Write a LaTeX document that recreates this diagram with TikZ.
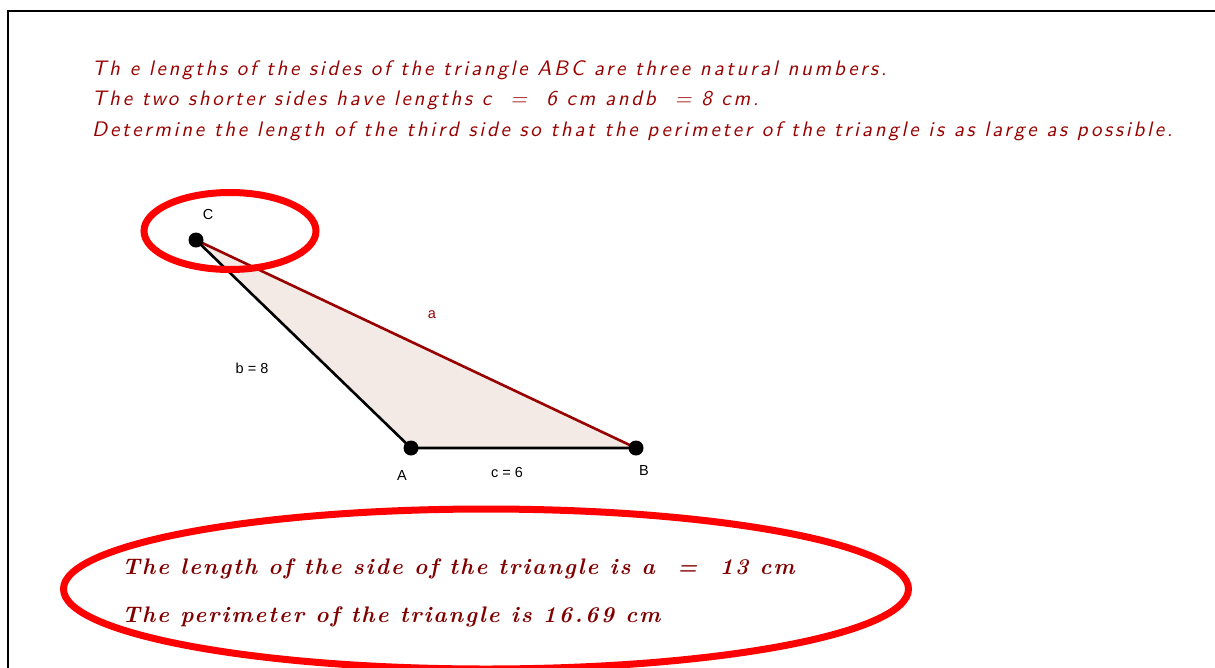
\documentclass[tikz,border=0pt]{standalone}
\usepackage{fontspec}
\usetikzlibrary{shapes.geometric}
\newfontfamily\labelfont{Liberation Sans}
\newfontfamily\qfont{lmsans10-oblique.otf}[LetterSpace=12.9]
\newfontfamily\afont{lmroman10-bolditalic.otf}[LetterSpace=8.5]
\newfontfamily\afontwide{lmroman10-bolditalic.otf}[LetterSpace=11]
\definecolor{maroon}{RGB}{153,0,0}
\definecolor{darkmaroon}{RGB}{128,0,0}
\definecolor{trifill}{RGB}{243,234,229}
\definecolor{ringred}{RGB}{255,0,0}
\tikzset{
  question/.style={anchor=base west, inner sep=0pt, text=maroon, font=\fontsize{21}{21}\selectfont\qfont},
  answer/.style={anchor=base west, inner sep=0pt, text=darkmaroon, font=\fontsize{22.5}{22.5}\selectfont\afont},
  vertex/.style={circle, fill=black, inner sep=0pt, minimum size=15pt},
  ptlabel/.style={inner sep=0pt, font=\fontsize{14.5}{14.5}\selectfont\labelfont},
  ring/.style={draw=ringred, line width=7pt},
  frameline/.style={line width=2pt, draw=black}
}
\begin{document}
\begin{tikzpicture}[x=1pt,y=-1pt]
\useasboundingbox (0,0) rectangle (1215,667);
\draw[frameline] (7.5,668) -- (7.5,11) -- (1216,11);

\node[question] (q1) at (92,75) {Th e lengths of the sides of the triangle ABC are three natural numbers.};
\node[question] (q2) at (92,105) {The two shorter sides have lengths c \ = \ 6 cm andb \ = 8 cm.};
\node[question] (q3) at (92,136) {Determine the length of the third side so that the perimeter of the triangle is as large as possible.};

\coordinate (Cp) at (196,240);
\coordinate (Ap) at (411,448);
\coordinate (Bp) at (636,448);
\fill[trifill] (Cp) -- (Ap) -- (Bp) -- cycle;
\draw[line width=2.6pt, black] (Cp) -- (Ap) -- (Bp);
\draw[line width=2.6pt, maroon] (Cp) -- (Bp);
\node[vertex] (C) at (Cp) {};
\node[vertex] (A) at (Ap) {};
\node[vertex] (B) at (Bp) {};

\node[ptlabel] (lC) at (208,215) {C};
\node[ptlabel] (lA) at (402,476) {A};
\node[ptlabel] (lB) at (644,471) {B};
\node[ptlabel, text=maroon] (la) at (432,315) {a};
\node[ptlabel] (lb) at (252,368) {b = 8};
\node[ptlabel] (lc) at (507,472) {c = 6};

\node[ring, ellipse, minimum width=172pt, minimum height=77pt, inner sep=0pt] (ringC) at (230,231) {};

\node[answer] (r1) at (122,574) {The length of the side of the triangle is a \ = \ 13 cm};
\node[answer] (r2) at (122,622) {The perimeter of the triangle is {\afontwide 16.69} cm};

\node[ring, ellipse, minimum width=845pt, minimum height=160pt, inner sep=0pt] (ringR) at (486,589) {};
\end{tikzpicture}
\end{document}
